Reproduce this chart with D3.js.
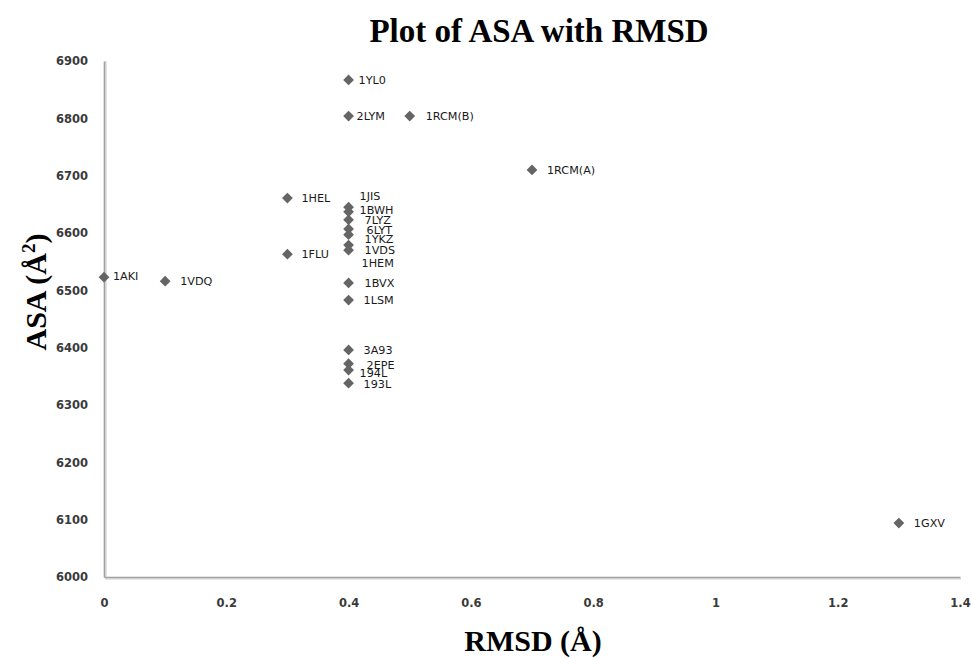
<!DOCTYPE html>
<html>
<head>
<meta charset="utf-8">
<script src="https://cdn.jsdelivr.net/npm/d3@7"></script>
<style>
html,body{margin:0;padding:0;background:#fff;}
svg{display:block;}
</style>
</head>
<body>
<svg id="chart" width="971" height="658"></svg>
<script>
// ---- data ----
const names = ["1AKI","1VDQ","1HEL","1FLU","1YL0","2LYM","1RCM(B)","1RCM(A)","1JIS","1BWH","7LYZ","6LYT","1YKZ","1VDS","1HEM","1BVX","1LSM","3A93","2EPE","194L","193L","1GXV"];
const rmsd  = [0, 0.1, 0.3, 0.3, 0.4, 0.4, 0.5, 0.7, 0.4, 0.4, 0.4, 0.4, 0.4, 0.4, 0.4, 0.4, 0.4, 0.4, 0.4, 0.4, 0.4, 1.3];
const asa   = [6523, 6516, 6661, 6563, 6867, 6804, 6804, 6710, 6645, 6637, 6623, 6607, 6597, 6579, 6570, 6513, 6483, 6396, 6372, 6361, 6338, 6094];
const xTicks = [0, 0.2, 0.4, 0.6, 0.8, 1, 1.2, 1.4];
const yTicks = [6000, 6100, 6200, 6300, 6400, 6500, 6600, 6700, 6800, 6900];
// label nudges (layout only, pixels)
const labelDx = [9, 15, 14, 14, 10, 8, 16, 15, 11, 11, 16, 18, 16, 16, 13, 16, 15, 15, 18, 11, 15, 15];
const labelDy = [-1, 0, 0, 0, 0, 0, 0, 0, -11, -2, 0, 1, 4, 5, 13, 0, 0, 0, 1, 3, 1, 0];

const svg = d3.select("#chart");
const x = d3.scaleLinear().domain([0, 1.4]).range([104, 960]);
const y = d3.scaleLinear().domain([6000, 6900]).range([577, 61]);

// axis shadow
svg.append("path")
  .attr("d", `M${x(0)+2},${y(6900)} V${y(6000)+2} H${x(1.4)+1}`)
  .attr("fill","none").attr("stroke","#dcdcdc").attr("stroke-width",1.5);

const tickFont = "'DejaVu Sans', Verdana, sans-serif";

const xAxis = svg.append("g").attr("transform",`translate(0,${y(6000)})`)
  .call(d3.axisBottom(x).tickValues(xTicks).tickSize(0).tickPadding(22).tickFormat(d3.format("~g")));
const yAxis = svg.append("g").attr("transform",`translate(${x(0)},0)`)
  .call(d3.axisLeft(y).tickValues(yTicks).tickSize(0).tickPadding(16).tickFormat(d3.format("d")));
[xAxis, yAxis].forEach(g => {
  g.select(".domain").attr("stroke","#a0a0a0").attr("stroke-width",1.6);
  g.selectAll("text").attr("font-family",tickFont).attr("font-size",11.5)
    .attr("font-weight","bold").attr("fill","#3a3a3a");
});

// points
const idx = d3.range(names.length);
const diamond = d3.symbol().type(d3.symbolSquare).size(58);
svg.append("g").selectAll("path").data(idx).join("path")
  .attr("d", diamond)
  .attr("transform", i => `translate(${x(rmsd[i])},${y(asa[i])}) rotate(45)`)
  .attr("fill","#656565");

svg.append("g").selectAll("text").data(idx).join("text")
  .attr("x", i => x(rmsd[i]) + labelDx[i])
  .attr("y", i => y(asa[i]) + labelDy[i])
  .attr("dy","0.35em")
  .attr("font-family", tickFont)
  .attr("font-size", 11.2)
  .attr("fill","#1a1a1a")
  .text(i => names[i]);

// titles
svg.append("text").attr("x",539).attr("y",42).attr("text-anchor","middle")
  .attr("font-family","'Liberation Serif','Times New Roman',serif").attr("font-weight","bold")
  .attr("font-size",33).attr("fill","#000").text("Plot of ASA with RMSD");

svg.append("text").attr("x",533).attr("y",651).attr("text-anchor","middle")
  .attr("font-family","'Liberation Serif','Times New Roman',serif").attr("font-weight","bold")
  .attr("font-size",30).attr("fill","#000").text("RMSD (Å)");

const yt = svg.append("text").attr("transform","translate(46,292) rotate(-90)").attr("text-anchor","middle")
  .attr("font-family","'Liberation Serif','Times New Roman',serif").attr("font-weight","bold")
  .attr("font-size",30).attr("fill","#000");
yt.append("tspan").text("ASA (Å");
yt.append("tspan").attr("font-size",19).attr("dy",-11).text("2");
yt.append("tspan").attr("dy",11).text(")");
</script>
</body>
</html>
